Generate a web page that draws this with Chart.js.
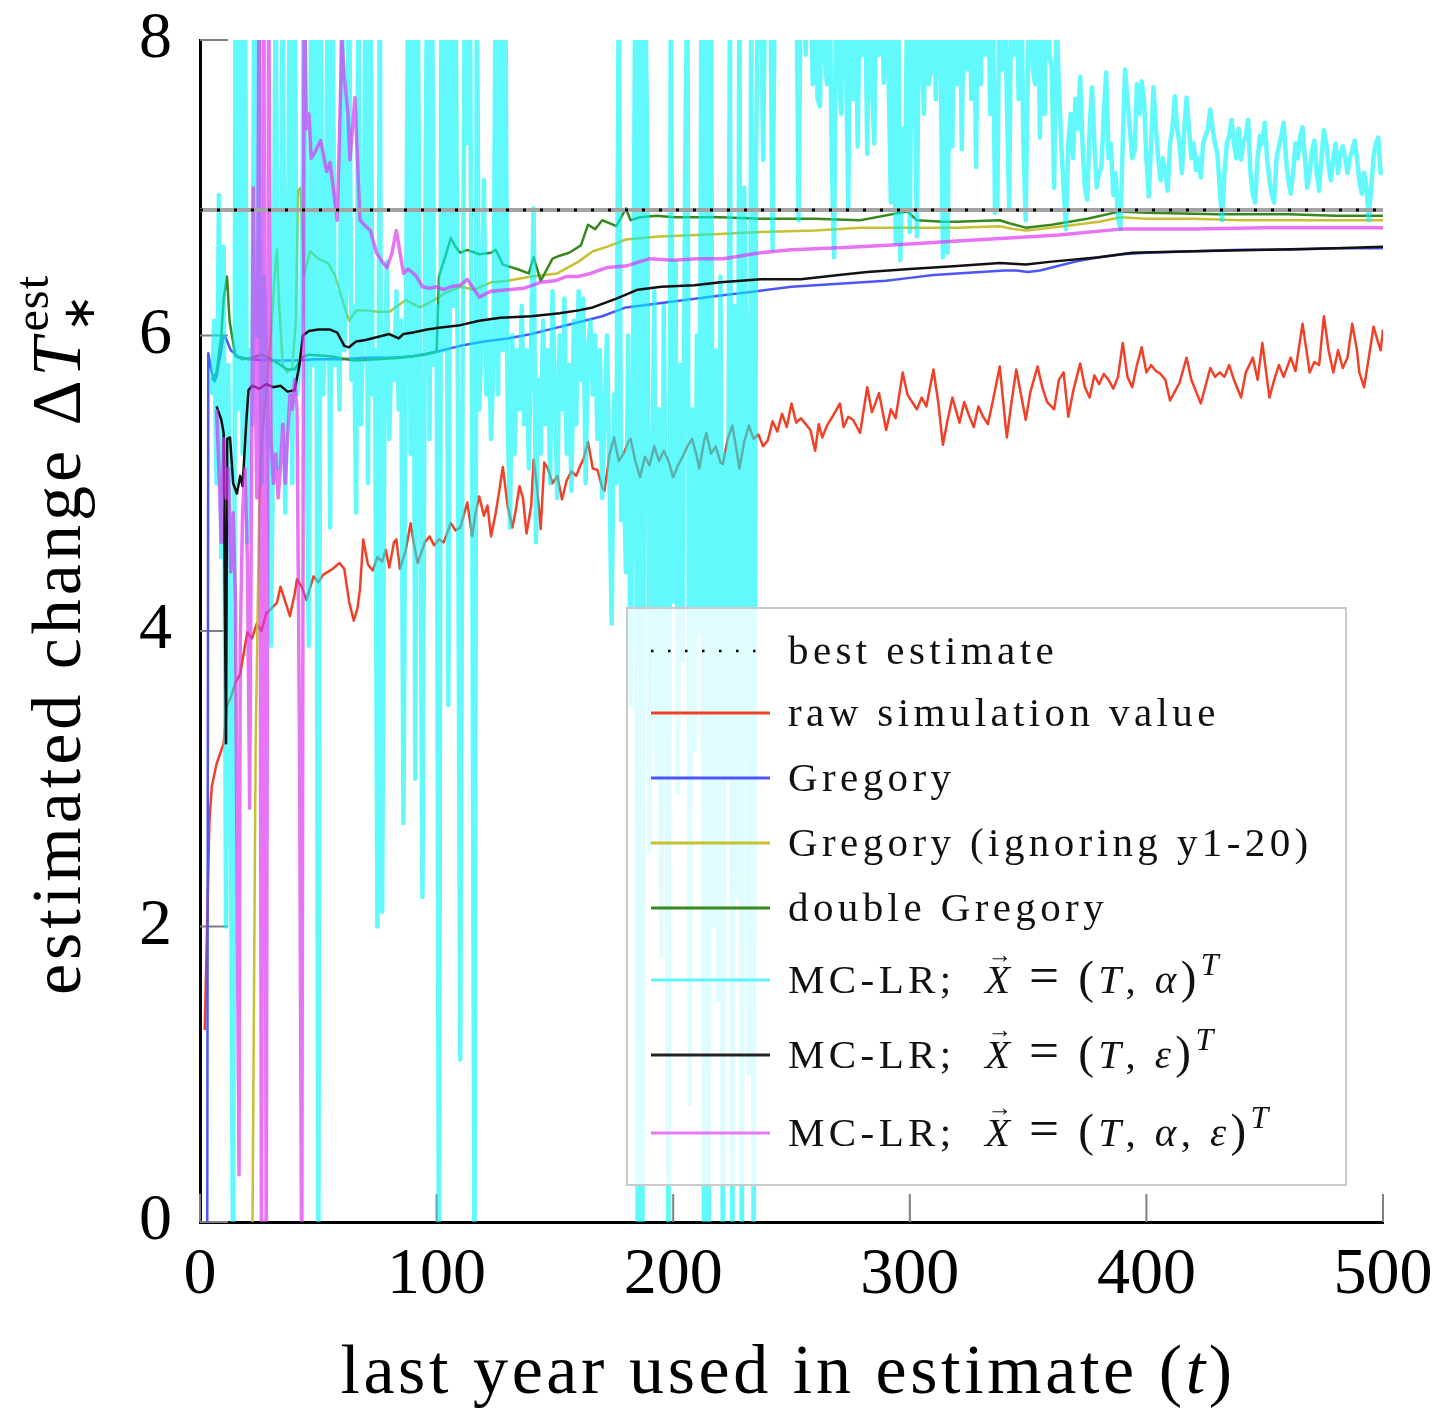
<!DOCTYPE html>
<html>
<head>
<meta charset="utf-8">
<title>Estimated change against last year used</title>
<script src="https://cdn.jsdelivr.net/npm/chart.js@4.4.1/dist/chart.umd.min.js"></script>
<style>
  html, body { margin: 0; padding: 0; background: #fff; }
  #wrap { width: 1443px; height: 1408px; }
</style>
</head>
<body>
<div id="wrap"><canvas id="chartEstimate" width="1443" height="1408"></canvas></div>
<script>
const SERIF = "'Liberation Serif', 'Times New Roman', serif";

const xTickValues = [0, 100, 200, 300, 400, 500];
const yTickValues = [0, 2, 4, 6, 8];

// best estimate (horizontal reference)
const bestYears = [0, 500];
const bestValues = [6.85, 6.85];

// raw simulation value
const rawYears = [
  2, 3, 4, 5, 7, 10, 11.3, 13, 15, 17,
  19, 20, 22, 24, 26, 28, 30, 32.5, 34, 36,
  38, 40, 41, 43, 45, 48, 50, 52, 54, 56,
  59, 61, 63, 65, 66.5, 67.6, 69, 71, 73, 75,
  77, 78.5, 80, 82, 83, 84.5, 87, 89, 90.5, 92,
  95, 97, 99, 101, 103, 106, 108, 110, 113, 115,
  116.5, 118, 120, 121.5, 123, 125, 126.5, 128, 130, 132,
  133.5, 135, 136.5, 138, 140, 141, 142.5, 144, 145.5, 147,
  149, 151, 153, 155, 157, 159, 161, 162, 164, 166,
  168, 170, 171, 173, 175, 177, 179, 181, 182, 184,
  186, 188, 190, 192, 194, 196, 198, 200, 202, 204,
  206, 208, 210, 211, 213, 214, 216, 218, 220, 221,
  223, 225, 226.5, 228, 230, 232, 234, 236, 238, 240,
  242, 244, 246, 248, 250, 252, 254, 256, 258, 260,
  261.5, 263, 265, 268, 270.5, 272, 274, 276, 279, 282,
  284, 287, 290, 292, 294, 297, 299, 301, 303, 305,
  307, 310, 312, 314, 316, 318, 321, 323, 325, 327,
  329, 331, 333, 335, 338, 341, 343, 345, 347, 349,
  351, 354, 356, 358, 361, 363, 365, 367, 369, 372,
  374, 376, 378, 380, 382, 384, 386, 388, 390, 392,
  394, 396, 398, 400, 402, 404, 406, 408, 410, 412,
  414, 417, 419, 421, 423, 425, 427, 429, 431, 433,
  435, 437, 440, 442, 445, 447, 449, 452, 454, 456,
  458, 461, 463, 466, 469, 471, 473, 475, 477, 479,
  481, 483, 485, 487, 489, 490, 492, 494, 496, 498,
  499, 500
];
const rawValues = [
  1.3, 2.0, 2.72, 2.95, 3.1, 3.24, 3.49, 3.55, 3.65, 3.71,
  3.9, 3.99, 3.95, 4.05, 4.0, 4.12, 4.15, 4.19, 4.30, 4.2,
  4.10, 4.25, 4.35, 4.3, 4.21, 4.37, 4.33, 4.38, 4.40, 4.42,
  4.46, 4.42, 4.2, 4.07, 4.15, 4.28, 4.62, 4.45, 4.41, 4.5,
  4.47, 4.55, 4.43, 4.60, 4.62, 4.42, 4.55, 4.73, 4.58, 4.46,
  4.6, 4.64, 4.58, 4.62, 4.60, 4.73, 4.68, 4.70, 4.87, 4.64,
  4.80, 4.91, 4.78, 4.85, 4.64, 4.8, 4.95, 5.11, 4.85, 4.70,
  4.82, 4.98, 4.9, 4.66, 4.85, 5.16, 4.97, 4.69, 5.14, 5.10,
  5.0, 5.05, 4.89, 5.02, 5.08, 5.05, 5.13, 5.16, 5.28, 5.10,
  5.09, 4.97, 4.95, 5.19, 5.31, 5.15, 5.2, 5.28, 5.3, 5.15,
  5.04, 5.18, 5.12, 5.25, 5.15, 5.22, 5.15, 5.04, 5.12, 5.18,
  5.25, 5.30, 5.18, 5.10, 5.28, 5.34, 5.20, 5.25, 5.14, 5.13,
  5.30, 5.39, 5.25, 5.10, 5.28, 5.39, 5.30, 5.33, 5.25, 5.29,
  5.42, 5.35, 5.47, 5.38, 5.54, 5.41, 5.44, 5.40, 5.36, 5.22,
  5.40, 5.31, 5.39, 5.47, 5.54, 5.38, 5.45, 5.43, 5.34, 5.65,
  5.48, 5.61, 5.36, 5.50, 5.44, 5.75, 5.60, 5.55, 5.50, 5.58,
  5.52, 5.77, 5.55, 5.26, 5.43, 5.58, 5.41, 5.55, 5.46, 5.38,
  5.52, 5.45, 5.40, 5.55, 5.79, 5.31, 5.55, 5.77, 5.60, 5.43,
  5.62, 5.79, 5.65, 5.55, 5.50, 5.70, 5.75, 5.45, 5.62, 5.81,
  5.65, 5.58, 5.73, 5.67, 5.74, 5.70, 5.64, 5.72, 5.95, 5.72,
  5.65, 5.80, 5.92, 5.75, 5.80, 5.76, 5.74, 5.70, 5.56, 5.62,
  5.68, 5.85, 5.70, 5.62, 5.54, 5.66, 5.78, 5.72, 5.75, 5.72,
  5.80, 5.70, 5.58, 5.75, 5.85, 5.70, 5.95, 5.58, 5.70, 5.80,
  5.72, 5.85, 5.76, 6.08, 5.75, 5.82, 5.80, 6.13, 5.90, 5.75,
  5.90, 5.78, 5.85, 6.08, 5.90, 5.75, 5.65, 5.85, 6.06, 5.95,
  5.90, 6.04
];

// Gregory
const gregoryYears = [
  3, 3.5, 5, 6, 7, 9, 10, 11, 13, 16,
  20, 30, 40, 50, 60, 70, 80, 90, 100, 110,
  120, 130, 140, 150, 160, 170, 180, 190, 200, 210,
  220, 230, 240, 250, 260, 270, 280, 290, 300, 310,
  320, 330, 340, 345, 350, 355, 360, 370, 380, 390,
  400, 420, 440, 460, 480, 500
];
const gregoryValues = [
  -1, 5.88, 5.75, 5.69, 5.72, 5.9, 6.0, 5.98, 5.9, 5.86,
  5.84, 5.83, 5.83, 5.84, 5.84, 5.85, 5.85, 5.86, 5.89, 5.93,
  5.96, 5.98, 6.01, 6.05, 6.09, 6.13, 6.19, 6.21, 6.23, 6.25,
  6.27, 6.29, 6.31, 6.33, 6.34, 6.35, 6.36, 6.37, 6.39, 6.41,
  6.42, 6.43, 6.44, 6.44, 6.43, 6.44, 6.46, 6.50, 6.53, 6.55,
  6.56, 6.57, 6.58, 6.58, 6.59, 6.59
];

// Gregory (ignoring y1-20)
const gregoryLateYears = [
  22, 23.5, 25, 26, 28, 30, 31.5, 32.5, 33.5, 35,
  37, 39, 40.5, 41.5, 42.5, 44, 46.5, 50, 54, 57,
  60, 63, 66, 70, 75, 80, 87, 93, 100, 104,
  110, 116, 123, 130, 140, 151, 160, 166, 172, 180,
  194, 210, 237, 260, 279, 300, 320, 338, 344, 349,
  355, 365, 380, 389, 400, 420, 440, 460, 480, 500
];
const gregoryLateValues = [
  -0.5, 3.2, 4.8, 5.3, 5.6, 6.0, 6.4, 6.58, 6.2, 5.79,
  5.75, 5.78, 6.1, 6.98, 7.0, 6.41, 6.57, 6.52, 6.49, 6.41,
  6.25, 6.10, 6.17, 6.17, 6.16, 6.16, 6.24, 6.19, 6.25, 6.29,
  6.33, 6.31, 6.36, 6.37, 6.40, 6.42, 6.50, 6.57, 6.60, 6.65,
  6.67, 6.68, 6.70, 6.71, 6.73, 6.73, 6.73, 6.74, 6.72, 6.71,
  6.72, 6.74, 6.77, 6.80, 6.79, 6.79, 6.78, 6.78, 6.78, 6.78
];

// double Gregory
const doubleYears = [
  5, 7, 9, 10, 11.4, 12.5, 13.5, 15, 18, 22,
  26, 30, 34, 37, 40, 43, 46, 55, 65, 75,
  85, 95, 100, 101, 104, 106, 108, 110, 113, 118,
  123, 125, 128, 134, 139, 141, 144, 149, 152, 156,
  161, 164, 167, 170, 173, 176, 178, 180, 182, 186,
  193, 200, 210, 220, 237, 260, 279, 299, 303, 314,
  320, 338, 342, 349, 360, 375, 389, 400, 430, 460,
  480, 500
];
const doubleValues = [
  5.7, 5.75, 6.0, 6.25, 6.40, 6.1, 6.0, 5.86, 5.84, 5.85,
  5.87, 5.84, 5.80, 5.77, 5.77, 5.85, 5.87, 5.86, 5.83, 5.84,
  5.85, 5.87, 5.89, 6.40, 6.55, 6.66, 6.60, 6.56, 6.58, 6.55,
  6.56, 6.58, 6.48, 6.45, 6.42, 6.53, 6.37, 6.52, 6.54, 6.56,
  6.61, 6.75, 6.72, 6.78, 6.76, 6.74, 6.80, 6.86, 6.78, 6.80,
  6.81, 6.80, 6.80, 6.80, 6.79, 6.79, 6.78, 6.84, 6.78, 6.77,
  6.77, 6.78, 6.76, 6.73, 6.75, 6.79, 6.84, 6.83, 6.82, 6.82,
  6.81, 6.81
];

// MC-LR with (T, alpha): one value per year from year 5
const mcAlphaFirstYear = 5;
const mcAlphaValues = [
  5.6, 6.1, 5.0, 6.95, 4.5, 6.6, 2.0, 5.8, 3.0, -0.5,
  8.6, 5.5, 8.6, 5.2, 8.6, 4.6, 5.9, 5.4, 8.6, 6.0,
  8.6, 5.0, 6.4, 5.8, 5.2, 3.9, 5.6, 8.6, 5.1, 5.5,
  8.6, 4.8, 6.0, 8.6, 5.0, 8.6, 5.6, 5.8, 6.2, 8.6,
  5.5, 3.9, 8.6, 5.8, 8.6, -0.5, 8.6, 5.6, 6.0, 8.6,
  4.7, 8.6, 5.8, 6.3, 5.5, 8.6, 5.9, 6.4, 8.6, 5.7,
  6.2, 4.8, 8.6, 5.4, 6.1, 8.6, 5.0, 8.6, 5.6, 5.9,
  2.0, 8.6, 2.1, 5.8, 6.5, 5.3, 6.0, 5.7, 6.3, 5.5,
  6.1, 2.7, 5.9, 8.6, 5.2, 8.6, 3.0, 8.6, 5.6, 2.2,
  6.1, 8.6, 5.3, 8.6, 5.8, 6.2, -0.5, 8.6, 5.9, 8.6,
  3.5, 8.6, 6.2, 8.6, 5.5, 1.1, 5.7, 8.6, 7.3, 8.6,
  5.4, -0.5, 8.6, 5.5, 6.0, 7.05, 5.6, 6.1, 5.3, 5.8,
  8.6, 5.6, 8.6, 5.9, 8.6, 5.5, 4.7, 6.0, 5.2, 5.9,
  5.5, 6.2, 5.4, 5.9, 5.1, 6.0, 6.86, 4.6, 5.7, 5.2,
  6.1, 5.4, 5.9, 5.0, 6.3, 5.6, 4.9, 6.0, 5.5, 6.25,
  5.2, 5.8, 4.95, 6.1, 5.4, 6.3, 5.7, 6.25, 5.0, 5.9,
  6.1, 5.6, 6.0, 5.3, 5.9, 4.9, 5.5, 6.0, 5.1, 4.05,
  5.6, 5.0, 8.6, 4.75, 5.2, 4.4, 6.0, 3.5, 5.5, 8.6,
  -0.5, 8.6, -0.5, 8.6, 7.34, 2.5, 4.8, 6.3, 3.0, 5.5,
  1.8, 6.2, 4.5, -0.5, 8.6, 4.2, 6.5, 2.9, 5.8, 3.8,
  7.0, 8.6, 0.8, 5.5, 3.2, 6.0, 4.0, 8.6, -0.5, 8.6,
  -0.5, 8.6, 2.0, 5.9, 1.5, 6.4, -0.5, 5.2, 3.0, 8.6,
  -0.5, 6.2, 2.2, 8.6, -0.5, 7.0, 5.8, 1.0, 8.6, -0.5,
  7.2, 8.6, 8.6, 7.19, 8.6, 8.6, 8.6, 6.58, 8.6, 8.6,
  8.6, 8.6, 8.6, 8.6, 8.6, 8.6, 8.6, 8.6, 6.78, 8.6,
  8.6, 7.9, 8.6, 8.6, 7.7, 8.6, 7.6, 7.55, 8.6, 7.9,
  7.7, 8.6, 7.2, 6.53, 8.6, 7.8, 7.5, 8.6, 7.9, 6.87,
  8.6, 7.6, 8.6, 7.28, 8.6, 7.9, 8.6, 7.23, 8.6, 7.7,
  7.3, 8.6, 7.9, 8.6, 7.71, 8.6, 7.8, 6.9, 8.6, 6.63,
  8.6, 6.51, 7.4, 6.85, 8.6, 6.7, 8.6, 7.8, 6.67, 8.6,
  7.9, 7.5, 8.6, 7.7, 7.8, 8.6, 7.6, 8.6, 7.9, 6.53,
  8.6, 6.56, 8.6, 7.28, 8.6, 7.7, 8.6, 7.26, 8.6, 7.8,
  8.6, 7.6, 8.6, 7.14, 8.6, 7.7, 8.6, 7.9, 8.6, 7.5,
  8.6, 6.83, 6.87, 8.6, 7.8, 8.6, 7.6, 6.87, 8.6, 7.9,
  8.6, 7.6, 8.6, 7.3, 6.78, 7.9, 8.6, 7.8, 7.7, 8.6,
  7.34, 8.6, 7.5, 8.6, 7.9, 7.8, 7.0, 8.2, 7.7, 7.3,
  7.0, 6.72, 7.3, 7.5, 7.2, 7.6, 7.4, 7.75, 7.3, 7.0,
  6.92, 7.4, 7.68, 7.3, 7.0, 7.1, 7.14, 7.5, 7.78, 7.2,
  7.3, 6.95, 7.1, 6.8, 6.72, 7.3, 7.8, 7.6, 7.4, 7.2,
  7.25, 7.7, 7.5, 7.72, 7.6, 7.2, 6.94, 7.3, 7.68, 7.4,
  7.2, 7.05, 7.2, 7.1, 6.98, 7.3, 7.4, 7.62, 7.4, 7.3,
  7.1, 7.4, 7.61, 7.4, 7.2, 7.3, 7.12, 7.2, 7.07, 7.3,
  7.35, 7.4, 7.53, 7.4, 7.3, 7.23, 7.0, 6.78, 7.1, 7.3,
  7.35, 7.46, 7.3, 7.2, 7.4, 7.19, 7.3, 7.35, 7.46, 7.1,
  6.95, 6.9, 7.2, 7.35, 7.3, 7.44, 7.2, 7.05, 6.95, 6.9,
  7.2, 7.28, 7.35, 7.44, 7.2, 7.05, 6.96, 7.1, 7.3, 7.2,
  7.35, 7.41, 7.2, 7.0, 7.1, 7.25, 7.32, 7.1, 6.98, 7.2,
  7.39, 7.3, 7.15, 7.05, 7.2, 7.3, 7.1, 7.23, 7.28, 7.2,
  7.1, 7.2, 7.25, 7.32, 7.2, 7.05, 6.96, 7.1, 7.0, 6.78,
  7.0, 7.21, 7.3, 7.34, 7.1, 7.12
];

// MC-LR with (T, epsilon)
const mcEpsYears = [
  7, 9, 10, 10.5, 11, 11.5, 12.7, 14, 15.6, 17,
  18, 19.5, 20.5, 22, 25, 28, 31, 34, 37, 40,
  42, 43.5, 46, 50, 55, 58, 61, 63, 66, 70,
  75, 80, 84, 86, 90, 96, 100, 110, 118, 127,
  140, 152, 160, 166, 176, 185, 195, 209, 220, 237,
  254, 270, 282, 300, 320, 338, 349, 360, 380, 394,
  420, 451, 480, 500
];
const mcEpsValues = [
  5.52, 5.43, 5.34, 4.2, 3.24, 5.3, 5.31, 5.0, 4.93, 5.05,
  4.98, 5.4, 5.63, 5.66, 5.64, 5.67, 5.65, 5.66, 5.62, 5.63,
  5.8, 6.0, 6.03, 6.04, 6.04, 6.02, 5.93, 5.92, 5.96, 5.97,
  5.99, 6.01, 5.98, 6.01, 6.02, 6.04, 6.05, 6.07, 6.10, 6.12,
  6.13, 6.15, 6.17, 6.19, 6.25, 6.31, 6.33, 6.34, 6.36, 6.38,
  6.38, 6.41, 6.43, 6.45, 6.47, 6.49, 6.48, 6.50, 6.53, 6.56,
  6.57, 6.58, 6.59, 6.60
];

// MC-LR with (T, alpha, epsilon)
const mcBothYears = [
  7, 8, 9, 10, 11, 12, 13, 14, 15, 16,
  16.5, 17, 18, 19, 20, 21, 22, 22.5, 23, 24,
  25, 26, 27, 28, 29, 30, 31, 32, 33, 34,
  35, 36, 37, 38, 39, 40, 41, 42, 43, 44,
  45, 46, 47, 48.6, 51, 53.5, 55, 58, 60, 61,
  62.5, 63.4, 65.5, 67.6, 70, 72, 74.6, 77, 79, 81,
  83, 86, 88, 91.5, 94, 97, 100, 103, 106, 110,
  113, 118, 123, 130, 137, 144, 150, 155, 160, 165,
  172, 180, 190, 200, 210, 221, 237, 250, 265, 279,
  300, 320, 342, 363, 389, 420, 450, 480, 500
];
const mcBothValues = [
  5.5, 5.1, 4.6, 5.3, 4.9, 5.1, 4.4, 4.8, 4.2, 1.5,
  0.32, 3.9, 4.8, 5.1, 4.5, 2.8, 5.6, 7.0, 6.2, 4.9,
  8.6, -0.5, 8.6, -0.5, 8.6, 5.3, 5.0, 5.2, 4.9, 5.1,
  5.4, 5.0, 5.3, 5.6, 5.5, 5.7, 5.5, 3.4, -0.5, 8.6,
  7.4, 7.5, 7.2, 7.24, 7.32, 7.11, 7.17, 6.78, 8.0, 7.75,
  7.5, 7.19, 7.61, 6.78, 6.74, 6.71, 6.56, 6.50, 6.46, 6.55,
  6.71, 6.42, 6.45, 6.40, 6.33, 6.32, 6.33, 6.31, 6.33, 6.34,
  6.38, 6.26, 6.30, 6.31, 6.32, 6.36, 6.37, 6.40, 6.40, 6.42,
  6.46, 6.47, 6.52, 6.51, 6.52, 6.52, 6.56, 6.58, 6.59, 6.60,
  6.62, 6.64, 6.66, 6.68, 6.72, 6.72, 6.73, 6.73, 6.73
];

function pairUp(years, values) {
  return years.map((t, i) => ({ x: t, y: values[i] }));
}

function series(label, years, values, color, width, order, extra) {
  return Object.assign({
    label: label,
    data: pairUp(years, values),
    borderColor: color,
    borderWidth: width,
    order: order,
    pointRadius: 0,
    fill: false,
    clip: 0,
  }, extra || {});
}

const mcAlphaYears = mcAlphaValues.map((v, i) => mcAlphaFirstYear + i);

const datasets = [
  series('best estimate band', bestYears, bestValues, '#a3a3a3', 4, 1),
  series('best estimate', bestYears, bestValues, '#000', 3, 0, { borderDash: [3, 14] }),
  series('raw simulation value', rawYears, rawValues, '#f04128', 2.5, 8),
  series('Gregory', gregoryYears, gregoryValues, '#4c56f6', 2.5, 7),
  series('Gregory (ignoring y1-20)', gregoryLateYears, gregoryLateValues, '#c6c032', 2.5, 6),
  series('double Gregory', doubleYears, doubleValues, '#37891e', 2.5, 5),
  series('MC-LR (T, alpha)', mcAlphaYears, mcAlphaValues, 'rgba(0,245,250,0.62)', 4.5, 4),
  series('MC-LR (T, eps)', mcEpsYears, mcEpsValues, '#111', 2.5, 3),
  series('MC-LR (T, alpha, eps)', mcBothYears, mcBothValues, 'rgba(220,50,240,0.68)', 3.5, 2),
];

// label pieces of the three MC-LR legend rows
function mcLabel(symbols) {
  const runs = [{ t: 'MC-LR;' }, { t: '  ' }, { t: 'X', it: true, arrow: true }, { t: ' ' },
    { t: '=', k: 1.3 }, { t: ' ' }, { t: '(', k: 1.15 }, { t: 'T', it: true }];
  symbols.forEach(s => { runs.push({ t: ',' }, { t: ' ' }, { t: s, it: true }); });
  runs.push({ t: ')', k: 1.15 }, { t: 'T', it: true, sup: true });
  return runs;
}

// legend rows: sample line style + label made of text runs
const legendRows = [
  { color: '#000', dotted: true, runs: [{ t: 'best estimate' }] },
  { color: '#f04128', runs: [{ t: 'raw simulation value' }] },
  { color: '#4c56f6', runs: [{ t: 'Gregory' }] },
  { color: '#c6c032', runs: [{ t: 'Gregory (ignoring y1-20)' }] },
  { color: '#37891e', runs: [{ t: 'double Gregory' }] },
  { color: '#5cf6f8', runs: mcLabel(['α']) },
  { color: '#222', runs: mcLabel(['ε']) },
  { color: '#e878f4', runs: mcLabel(['α', 'ε']) },
];
const legendRowY = [651, 713, 778, 843, 908, 980, 1055, 1133];

function setFont(ctx, size, italic) {
  ctx.font = (italic ? 'italic ' : '') + size + 'px ' + SERIF;
}

// draws a list of runs left to right, returns the end x
function drawRuns(ctx, runs, x, y, size, spacing) {
  runs.forEach(r => {
    let s = r.sup ? size * 0.78 : (r.sub ? size * 0.72 : size);
    s *= (r.k || 1);
    const dy = r.sup ? -size * 0.45 : (r.sub ? size * 0.22 : 0);
    setFont(ctx, s, r.it);
    ctx.letterSpacing = spacing + 'px';
    ctx.fillText(r.t, x, y + dy);
    const w = ctx.measureText(r.t).width;
    if (r.arrow) {
      setFont(ctx, s * 0.6, false);
      ctx.letterSpacing = '0px';
      const aw = ctx.measureText('→').width;
      ctx.fillText('→', x + (w - spacing) / 2 - aw / 2 + s * 0.06, y - s * 0.72);
    }
    x += w;
  });
  return x;
}

const decor = {
  id: 'decor',
  beforeDatasetsDraw(chart) {
    const { ctx, chartArea: a, scales: { x, y } } = chart;
    ctx.save();
    ctx.strokeStyle = '#808080';
    ctx.lineWidth = 2;
    ctx.beginPath();
    xTickValues.forEach(v => {
      const px = x.getPixelForValue(v);
      ctx.moveTo(px, a.bottom);
      ctx.lineTo(px, a.bottom - 28);
    });
    yTickValues.forEach(v => {
      const py = y.getPixelForValue(v);
      ctx.moveTo(a.left, py);
      ctx.lineTo(a.left + 28, py);
    });
    ctx.stroke();
    ctx.restore();
  },
  afterDraw(chart) {
    const ctx = chart.ctx;
    ctx.save();
    ctx.fillStyle = '#000';
    ctx.textBaseline = 'alphabetic';
    ctx.textAlign = 'left';

    // legend box
    ctx.fillStyle = 'rgba(255,255,255,0.8)';
    ctx.fillRect(627, 608, 719, 577);
    ctx.strokeStyle = '#cacaca';
    ctx.lineWidth = 2;
    ctx.strokeRect(627, 608, 719, 577);

    legendRows.forEach((row, i) => {
      const ly = legendRowY[i];
      ctx.save();
      ctx.strokeStyle = row.color;
      ctx.lineWidth = row.dotted ? 2.5 : 3;
      if (row.dotted) ctx.setLineDash([2.5, 14.5]);
      ctx.beginPath();
      ctx.moveTo(651, ly);
      ctx.lineTo(770, ly);
      ctx.stroke();
      ctx.restore();
      ctx.fillStyle = '#111';
      drawRuns(ctx, row.runs, 788, ly + 13, 41, 4.4);
    });

    // x axis title
    ctx.fillStyle = '#000';
    const xRuns = [{ t: 'last year used in estimate (' }, { t: 't', it: true }, { t: ')' }];
    let w = 0;
    xRuns.forEach(r => {
      setFont(ctx, 70, r.it);
      ctx.letterSpacing = '3.6px';
      w += ctx.measureText(r.t).width;
    });
    drawRuns(ctx, xRuns, 788 - w / 2, 1393, 70, 3.6);

    // y axis title, rotated
    ctx.save();
    ctx.translate(80, 995);
    ctx.rotate(-Math.PI / 2);
    const endX = drawRuns(ctx, [{ t: 'estimated change ' }, { t: 'Δ' }, { t: 'T', it: true }], 0, 0, 70, 4);
    drawRuns(ctx, [{ t: '∗', sub: true }], endX + 2, 0, 62, 0);
    drawRuns(ctx, [{ t: 'est', sup: true }], endX + 2, -4, 62, 1);
    ctx.restore();

    ctx.restore();
  }
};

new Chart(document.getElementById('chartEstimate').getContext('2d'), {
  type: 'line',
  data: { datasets: datasets },
  options: {
    responsive: false,
    animation: false,
    devicePixelRatio: 1,
    layout: { padding: { left: 0, right: 60, top: 40, bottom: 0 } },
    plugins: { legend: { display: false }, tooltip: { enabled: false } },
    elements: { line: { tension: 0, borderJoinStyle: 'round' }, point: { radius: 0 } },
    scales: {
      x: {
        type: 'linear',
        min: 0,
        max: 500,
        afterFit: (s) => { s.height = 186; s.paddingLeft = 0; s.paddingRight = 0; },
        afterBuildTicks: (s) => { s.ticks = xTickValues.map(v => ({ value: v })); },
        grid: { display: false, drawTicks: false },
        border: { display: true, color: '#000', width: 3 },
        ticks: { font: { family: SERIF, size: 66 }, color: '#000', padding: 14, maxRotation: 0 },
      },
      y: {
        type: 'linear',
        min: 0,
        max: 8,
        afterFit: (s) => { s.width = 200; s.paddingTop = 0; s.paddingBottom = 0; },
        afterBuildTicks: (s) => { s.ticks = yTickValues.map(v => ({ value: v })); },
        grid: { display: false, drawTicks: false },
        border: { display: true, color: '#000', width: 3 },
        ticks: { font: { family: SERIF, size: 66 }, color: '#000', padding: 28 },
      },
    },
  },
  plugins: [decor],
});
</script>
</body>
</html>
